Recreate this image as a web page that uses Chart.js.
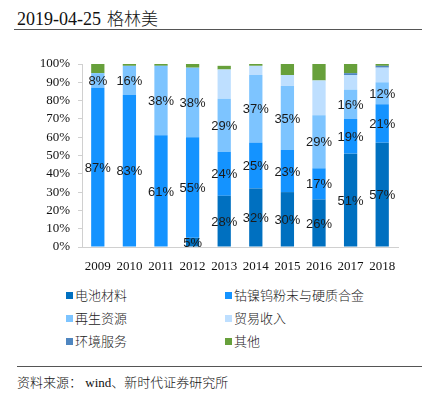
<!DOCTYPE html>
<html>
<head>
<meta charset="utf-8">
<script src="https://cdn.jsdelivr.net/npm/chart.js@4.4.0/dist/chart.umd.min.js"></script>
<style>
  body { margin: 0; width: 422px; height: 396px; background: #fff; position: relative; overflow: hidden; }
  #title { position: absolute; left: 17px; top: 5px; font: 18px "Liberation Serif", "Noto Sans CJK SC"; color: #111; white-space: nowrap; }
  #title .cn { font-family: "Noto Sans CJK SC"; font-weight: 300; font-size: 17px; margin-left: 6px; }
  .rule { position: absolute; height: 0; border-top: 1.5px solid #555; right: 0; }
  #box { position: absolute; left: 0; top: 40px; width: 422px; height: 240px; }
  #legend { position: absolute; left: 0; top: 286px; width: 422px; }
  .lg { position: absolute; font: 13px "Noto Sans CJK SC"; font-weight: 300; color: #222; white-space: nowrap; line-height: 18px; }
  .lg i { display: inline-block; width: 7px; height: 7px; margin-right: 2px; vertical-align: 1px; }
  #src { position: absolute; left: 17px; top: 372px; font: 13px "Liberation Serif", "Noto Sans CJK SC"; color: #111; white-space: nowrap; }
  #src .cn { font-family: "Noto Sans CJK SC"; font-weight: 300; }
</style>
</head>
<body>
<div id="title">2019-04-25<span class="cn">格林美</span></div>
<div class="rule" style="left:14px; top:29px;"></div>
<div id="box"><canvas id="c"></canvas></div>
<div id="legend"></div>
<div class="rule" style="left:17px; top:366px;"></div>
<div id="src"><span class="cn">资料来源：</span> wind<span class="cn">、新时代证券研究所</span></div>
<script>
// 年份
const years = ['2009', '2010', '2011', '2012', '2013', '2014', '2015', '2016', '2017', '2018'];
// 各業務占比（%）
const battery = [0, 0, 0, 5, 28, 32, 30, 26, 51, 57];
const cobalt = [87, 83, 61, 55, 24, 25, 23, 17, 19, 21];
const recycle = [8, 16, 38, 38, 29, 37, 35, 29, 16, 12];
const trade = [0, 0, 0, 0, 16, 5, 6, 19, 8, 8];
const envSvc = [0, 0, 0, 0, 0, 0, 0, 0, 1, 1];
const other = [5, 1, 1, 2, 2, 2, 6, 9, 5, 1];
const yTicks = [0, 10, 20, 30, 40, 50, 60, 70, 80, 90, 100];

const series = [
    { name: '电池材料', data: battery, color: '#0070C0', label: true },
    { name: '钴镍钨粉末与硬质合金', data: cobalt, color: '#1493FF', label: true },
    { name: '再生资源', data: recycle, color: '#7DC4FF', label: true },
    { name: '贸易收入', data: trade, color: '#BEDFFF', label: false },
    { name: '环境服务', data: envSvc, color: '#4F86C0', label: false },
    { name: '其他', data: other, color: '#67A03B', label: false },
];

// 圖例：兩欄三列
const lg = document.getElementById('legend');
series.forEach((s, i) => {
    const d = document.createElement('div');
    d.className = 'lg';
    d.style.left = (i % 2 === 0 ? 66 : 225) + 'px';
    d.style.top = (Math.floor(i / 2) * 23) + 'px';
    d.innerHTML = `<i style="background:${s.color}"></i>${s.name}`;
    lg.appendChild(d);
});

// 數值標籤（段中央）
const segLabels = {
    id: 'segLabels',
    afterDatasetsDraw(chart) {
        const ctx = chart.ctx;
        ctx.save();
        ctx.font = '13px "Liberation Sans"';
        ctx.fillStyle = '#1a1a1a';
        ctx.textAlign = 'center';
        ctx.textBaseline = 'middle';
        chart.data.datasets.forEach((ds, di) => {
            if (!series[di].label) return;
            chart.getDatasetMeta(di).data.forEach((bar, i) => {
                const v = ds.data[i];
                if (!v) return;
                ctx.fillText(v + '%', bar.x, (bar.y + bar.base) / 2 + 1);
            });
        });
        ctx.restore();
    }
};

new Chart(document.getElementById('c'), {
    type: 'bar',
    data: {
        labels: years,
        datasets: series.map(s => ({ label: s.name, data: s.data, backgroundColor: s.color, borderWidth: 0, barPercentage: 0.42, categoryPercentage: 1 }))
    },
    options: {
        responsive: true, maintainAspectRatio: false, animation: false,
        layout: { padding: { top: 24, right: 24, left: 0, bottom: 0 } },
        plugins: { legend: { display: false }, tooltip: { enabled: false } },
        scales: {
            x: {
                stacked: true,
                grid: { display: false },
                border: { color: '#d0d0d0' },
                ticks: { color: '#111', font: { family: 'Liberation Serif', size: 13 }, padding: 4, maxRotation: 0, autoSkip: false },
                afterFit(s) { s.height = 33; }
            },
            y: {
                stacked: true, min: 0, max: 100,
                afterBuildTicks(s) { s.ticks = yTicks.map(v => ({ value: v })); },
                grid: { drawOnChartArea: false, tickLength: 4, color: '#d0d0d0' },
                border: { color: '#d0d0d0' },
                ticks: { color: '#111', font: { family: 'Liberation Serif', size: 13 }, padding: 8, autoSkip: false, callback: v => v + '%' },
                afterFit(s) { s.width = 82; }
            }
        }
    },
    plugins: [segLabels]
});
</script>
</body>
</html>
